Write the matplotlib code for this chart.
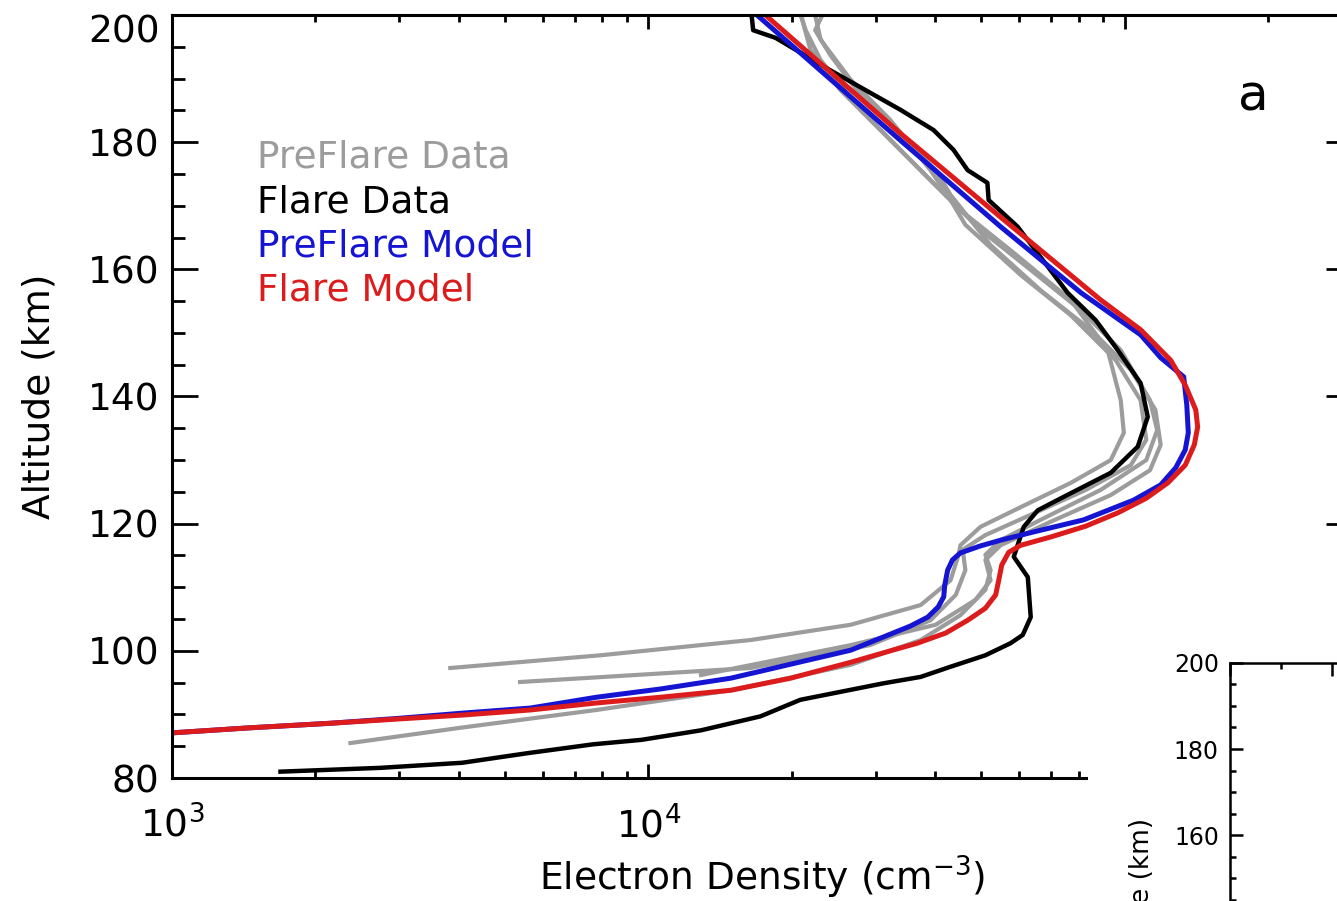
import numpy as np
import matplotlib.pyplot as plt
from matplotlib.patches import Rectangle
from matplotlib.ticker import MultipleLocator, LogLocator, NullFormatter

# Electron density profiles: density in cm^-3, altitude in km

# Flare model
flare_model_ne = [17.6e3, 33.8e3, 54.9e3, 89.0e3, 108e3, 124.9e3, 134e3, 141e3,
                  142.3e3, 140e3, 134e3, 123.1e3, 111e3, 96.7e3, 82.8e3, 69.9e3,
                  60.5e3, 57.1e3, 55.2e3, 54.4e3, 53.6e3, 51.0e3, 46.8e3, 42.1e3,
                  36.7e3, 32.2e3, 26.6e3, 19.9e3, 14.9e3, 10.6e3, 7.78e3, 5.65e3,
                  4.07e3, 3.01e3, 2.14e3, 1.46e3, 1.0e3, 0.9e3]
flare_model_alt = [200.0, 181.4, 168.2, 155.2, 150.5, 145.7, 141.8, 137.9,
                   135.2, 132.4, 129.2, 126.4, 124.0, 121.7, 119.6, 117.9,
                   116.6, 115.5, 113.5, 111.1, 108.8, 106.7, 104.8, 102.8,
                   101.2, 100.0, 98.2, 95.7, 93.8, 92.7, 91.8, 90.7,
                   89.9, 89.3, 88.6, 87.9, 87.1, 86.9]

# PreFlare model
preflare_model_ne = [16.9e3, 33.8e3, 54.9e3, 81.0e3, 108e3, 119e3, 133e3, 135e3,
                     136e3, 134e3, 128e3, 119e3, 104.4e3, 82.0e3, 64.4e3, 54.9e3,
                     49.8e3, 45.2e3, 43.5e3, 42.5e3, 41.9e3, 41.7e3, 40.6e3, 38.6e3,
                     35.5e3, 31.2e3, 26.6e3, 19.9e3, 14.9e3, 10.6e3, 7.78e3, 5.65e3,
                     4.07e3, 3.01e3, 2.14e3, 1.46e3, 1.0e3, 0.9e3]
preflare_model_alt = [200.0, 180.3, 166.7, 156.3, 149.7, 146.1, 143.1, 138.7,
                      134.3, 131.6, 128.8, 126.1, 123.7, 120.6, 118.7, 117.4,
                      116.5, 115.4, 114.3, 112.7, 110.3, 108.5, 106.9, 105.3,
                      103.9, 102.2, 100.1, 97.9, 95.7, 94.0, 92.7, 91.0,
                      90.2, 89.4, 88.6, 87.9, 87.1, 86.9]

# Flare data
flare_data_ne = [16.5e3, 16.6e3, 18.5e3, 24.1e3, 33.8e3, 39.7e3, 43.7e3, 46.8e3,
                 51.5e3, 51.8e3, 59.6e3, 75.9e3, 86.9e3, 96.7e3, 108.0e3, 111.8e3,
                 106.5e3, 93.5e3, 74.4e3, 65.7e3, 61.4e3, 58.5e3, 62.6e3, 63.5e3,
                 61.1e3, 57.6e3, 51.0e3, 43.1e3, 37.3e3, 31.2e3, 20.85e3, 17.2e3,
                 12.9e3, 9.67e3, 7.66e3, 5.57e3, 4.07e3, 2.74e3, 1.69e3]
flare_data_alt = [199.5, 197.6, 196.4, 191.3, 185.1, 181.9, 178.8, 175.6,
                  173.6, 170.9, 166.7, 156.3, 152.0, 147.3, 142.1, 136.8,
                  132.1, 128.0, 124.2, 122.1, 119.5, 114.8, 111.6, 105.3,
                  102.5, 101.2, 99.3, 97.5, 95.9, 94.9, 92.3, 89.7,
                  87.5, 86.0, 85.3, 83.9, 82.4, 81.6, 81.0]

# PreFlare data (several occultations)
preflare_ne_1 = [3.84e3, 7.93e3, 16.4e3, 26.6e3, 37.3e3, 43.1e3, 44.8e3, 45.2e3,
                 49.8e3, 60.5e3, 77.0e3, 93.5e3, 99.6e3, 98.1e3, 92.1e3, 77.0e3,
                 57.6e3, 45.2e3, 41.0e3, 33.8e3, 27.9e3, 23.0e3, 21.4e3, 20.9e3]
preflare_alt_1 = [97.3, 99.3, 101.7, 104.1, 107.2, 111.1, 115.1, 116.6,
                  119.5, 122.6, 126.4, 130.0, 134.3, 139.4, 147.3, 155.2,
                  163.0, 169.3, 172.5, 178.8, 185.1, 192.9, 197.6, 200.0]

preflare_ne_2 = [2.37e3, 4.03e3, 7.78e3, 14.9e3, 26.6e3, 37.3e3, 45.2e3, 51.0e3,
                 52.3e3, 51.0e3, 54.9e3, 66.6e3, 89.0e3, 111e3, 117e3, 113e3,
                 98.1e3, 80.8e3, 63.5e3, 49.8e3, 39.1e3, 30.7e3, 25.3e3, 21.9e3, 20.9e3]
preflare_alt_2 = [85.5, 87.9, 90.7, 93.8, 97.8, 101.7, 105.6, 109.6,
                  112.7, 115.1, 117.4, 120.6, 125.3, 130.0, 134.7, 139.4,
                  147.3, 153.6, 159.9, 166.2, 174.0, 181.9, 188.2, 194.5, 200.0]

preflare_ne_3 = [5.38e3, 16.4e3, 29.2e3, 39.1e3, 44.2e3, 46.3e3, 45.7e3, 51.0e3,
                 63.5e3, 82.8e3, 103e3, 111e3, 108e3, 95.8e3, 77.0e3, 60.5e3,
                 46.3e3, 43.1e3, 39.1e3, 32.2e3, 26.6e3, 23.0e3, 22.4e3]
preflare_alt_3 = [95.1, 97.3, 100.9, 104.8, 108.8, 112.7, 115.9, 118.2,
                  121.4, 125.3, 129.2, 133.2, 139.4, 145.7, 152.8, 159.1,
                  167.0, 170.9, 175.6, 183.5, 189.8, 196.1, 200.0]

preflare_ne_4 = [12.9e3, 26.6e3, 40.1e3, 48.6e3, 52.3e3, 51.0e3, 54.9e3, 69.9e3,
                 93.5e3, 113e3, 119e3, 116e3, 103e3, 84.8e3, 66.6e3, 52.3e3,
                 43.1e3, 40.1e3, 33.8e3, 27.9e3, 24.1e3, 22.4e3, 23.2e3]
preflare_alt_4 = [96.2, 100.9, 104.1, 108.0, 111.1, 114.3, 116.6, 120.3,
                  124.5, 128.4, 132.4, 137.9, 144.2, 150.5, 156.7, 163.8,
                  171.7, 175.6, 181.1, 187.4, 193.7, 197.6, 200.0]

legend_labels = ['PreFlare Data', 'Flare Data', 'PreFlare Model', 'Flare Model']

GRAY = '#9c9c9c'
BLUE = '#1414d2'
RED = '#dc1c1c'

fig = plt.figure(figsize=(13.37, 9.01), dpi=100)
ax = fig.add_axes([0.1286, 0.1365, 0.8826, 0.8469])

for ne, alt in [(preflare_ne_1, preflare_alt_1), (preflare_ne_2, preflare_alt_2),
                (preflare_ne_3, preflare_alt_3), (preflare_ne_4, preflare_alt_4)]:
    ax.plot(ne, alt, color=GRAY, lw=3.0, solid_joinstyle='round')
ax.plot(flare_data_ne, flare_data_alt, color='black', lw=3.2, solid_joinstyle='round')
ax.plot(preflare_model_ne, preflare_model_alt, color=BLUE, lw=3.6, solid_joinstyle='round')
ax.plot(flare_model_ne, flare_model_alt, color=RED, lw=3.6, solid_joinstyle='round')

ax.set_xscale('log')
ax.set_xlim(1e3, 3e5)
ax.set_ylim(80, 200)
ax.yaxis.set_major_locator(MultipleLocator(20))
ax.yaxis.set_minor_locator(MultipleLocator(5))
ax.xaxis.set_major_locator(LogLocator(base=10, numticks=10))
ax.xaxis.set_minor_locator(LogLocator(base=10, subs=np.arange(2, 10), numticks=20))
ax.xaxis.set_minor_formatter(NullFormatter())

ax.tick_params(which='both', direction='in', top=True, right=True, width=2)
ax.tick_params(axis='y', which='major', length=19, labelsize=27, pad=9)
ax.tick_params(axis='y', which='minor', length=9)
ax.tick_params(axis='x', which='major', length=10, labelsize=27, pad=20)
ax.tick_params(axis='x', which='minor', length=5)
for s in ax.spines.values():
    s.set_linewidth(2.2)

ax.set_xlabel('Electron Density (cm$^{-3}$)', fontsize=27, labelpad=6)
ax.set_ylabel('Altitude (km)', fontsize=27, labelpad=22)

# text legend
legend_colors = [GRAY, 'black', BLUE, RED]
legend_y = [0.7995, 0.7405, 0.6828, 0.6252]
for lab, c, y in zip(legend_labels, legend_colors, legend_y):
    ax.text(0.072, y, lab, color=c, fontsize=27, transform=ax.transAxes,
            ha='left', va='baseline')

ax.text(0.916, 0.8925, 'a', fontsize=36, transform=ax.transAxes,
        ha='center', va='center')

# panel b sits over the lower right corner
fig.add_artist(Rectangle((1088 / 1337, 0), 1 - 1088 / 1337, 1 - 650 / 901,
                         transform=fig.transFigure, facecolor='white',
                         edgecolor='none', zorder=5))

axb = fig.add_axes([1230 / 1337, 0.2642 - 0.573, 306 / 1337, 0.573])
axb.set_zorder(10)
axb.set_ylim(80, 200)
axb.set_xlim(0, 6)
axb.yaxis.set_major_locator(MultipleLocator(20))
axb.yaxis.set_minor_locator(MultipleLocator(5))
axb.xaxis.set_major_locator(MultipleLocator(2))
axb.xaxis.set_minor_locator(MultipleLocator(1))
axb.tick_params(which='both', direction='in', top=True, right=True, width=1.8)
axb.tick_params(which='major', length=9, labelsize=17, pad=8)
axb.tick_params(which='minor', length=4.5)
for s in axb.spines.values():
    s.set_linewidth(1.8)
axb.set_ylabel('Altitude (km)', fontsize=19)
axb.yaxis.set_label_coords(1155 / 1337, -0.004, transform=fig.transFigure)

# keep the top "200" label inside the frame
fig.canvas.draw()
for t in ax.yaxis.get_major_ticks():
    if abs(t.get_loc() - 200) < 1e-6:
        t.label1.set_va('top')

fig.savefig('out.png', dpi=100)
